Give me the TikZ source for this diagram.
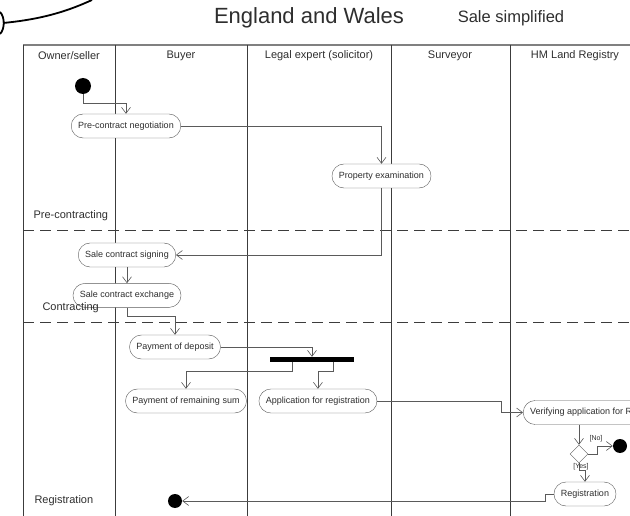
\documentclass[tikz,border=0pt]{standalone}
\usepackage{fontspec}
\setmainfont{Liberation Sans}
\usetikzlibrary{positioning,arrows.meta,shapes.geometric}

\definecolor{lanegray}{HTML}{3C3C3C}
\definecolor{flowgray}{HTML}{5A5A5A}
\definecolor{inkgray}{HTML}{2E2E2E}

\tikzset{
  act/.style={draw=flowgray, fill=white, rounded corners=12pt, minimum height=24pt, inner xsep=7pt, inner ysep=0pt, font=\fontsize{9}{10}\selectfont, text=inkgray},
  flow/.style={draw=flowgray, line width=0.6pt, -{Straight Barb[length=6pt,width=9pt]}},
  lane/.style={draw=lanegray, line width=0.9pt},
  phase/.style={draw=lanegray, line width=0.9pt, dash pattern=on 11pt off 6pt},
  lanehead/.style={font=\fontsize{11}{13}\selectfont, text=inkgray},
  dot/.style={circle, fill=black, inner sep=0pt, minimum size=14pt},
  guard/.style={font=\fontsize{7}{8}\selectfont, text=inkgray, inner sep=1pt}
}

\begin{document}
\begin{tikzpicture}[x=1pt, y=-1pt]
    \useasboundingbox (0,0) rectangle (630,516);
    \clip (0,0) rectangle (630,516);

    % callout tail, top left
    \draw[line width=1.8pt] (0,12) .. controls (5,17) and (5,29) .. (0,34);
    \draw[line width=1.8pt] (3,23) .. controls (45,19) and (70,10) .. (92,0);

    % titles
    \node[font=\fontsize{22}{26}\selectfont, text=inkgray] (title) at (309,18) {England and Wales};
    \node[font=\fontsize{16.5}{19}\selectfont, text=inkgray] (subtitle) at (511,18) {Sale simplified};

    % swimlanes
    \draw[lane, draw=gray, line width=1.5pt] (23,45) -- (630,45);
    \foreach \x in {23,115,247,391,510}
      \draw[lane] (\x,45) -- (\x,516);
    \node[lanehead] (hOwner) at (69,56) {Owner/seller};
    \node[lanehead] (hBuyer) at (181,56) {Buyer};
    \node[lanehead] (hLegal) at (319,56) {Legal expert (solicitor)};
    \node[lanehead] (hSurv) at (450,56) {Surveyor};
    \node[lanehead] (hReg) at (575,56) {HM Land Registry};

    % phases
    \draw[phase] (23,230) -- (630,230);
    \draw[phase] (23,322) -- (630,322);

    % activities
    \node[dot, minimum size=16pt] (start) at (83,86) {};
    \node[act] (neg) at (126,126) {Pre-contract negotiation};
    \node[act] (exam) at (381.5,176) {Property examination};
    \node[act] (sign) at (127,255) {Sale contract signing};
    \node[act, below=16pt of sign] (exch) {Sale contract exchange};
    \node[act] (dep) at (175,347) {Payment of deposit};
    \node[fill=black, minimum width=84pt, minimum height=5pt, inner sep=0pt] (bar) at (312,359.5) {};
    \node[act] (rest) at (186,401) {Payment of remaining sum};
    \node[act, right=12pt of rest] (appl) {Application for registration};
    \node[act, anchor=west] (verif) at (523,412.5) {Verifying application for Registration};
    \node[diamond, draw=flowgray, fill=white, minimum size=18pt, inner sep=0pt] (dec) at (579,454) {};
    \node[dot] (endR) at (620,446) {};
    \node[act] (reg) at (585,494) {Registration};
    \node[dot] (endB) at (175,501) {};

    % flows
    \draw[flow] (start) -- (83,103) -| (neg);
    \draw[flow] (neg) -| (exam);
    \draw[flow] (exam) |- (sign);
    \draw[flow] (sign.south) -- (sign.south |- exch.north);
    \draw[flow] (exch.south) -- ++(0,9) -| (dep);
    \draw[flow] (dep) -| (bar);
    \draw[flow] ([xshift=-20pt]bar.south) -- ++(0,9) -| (rest);
    \draw[flow] ([xshift=21pt]bar.south) -- ++(0,9) -| (appl);
    \draw[flow] (appl) -- (501,401) |- (verif);
    \draw[flow] (dec |- verif.south) -- (dec);
    \draw[flow] (dec.east) -- (597,454) |- (endR);
    \draw[flow] (dec.south) -- ++(0,7) -| (reg);
    \draw[flow] (reg) -- (545,494) |- (endB);
    \node[guard] (gNo) at (596,439) {[No]};
    \node[guard] (gYes) at (581,467) {[Yes]};

    % phase labels
    \node[lanehead, anchor=west] (pPre) at (30,216) {Pre-contracting};
    \node[lanehead, anchor=west] (pCon) at (39,308) {Contracting};
    \node[lanehead, anchor=west] (pReg) at (31,501) {Registration};
\end{tikzpicture}
\end{document}
